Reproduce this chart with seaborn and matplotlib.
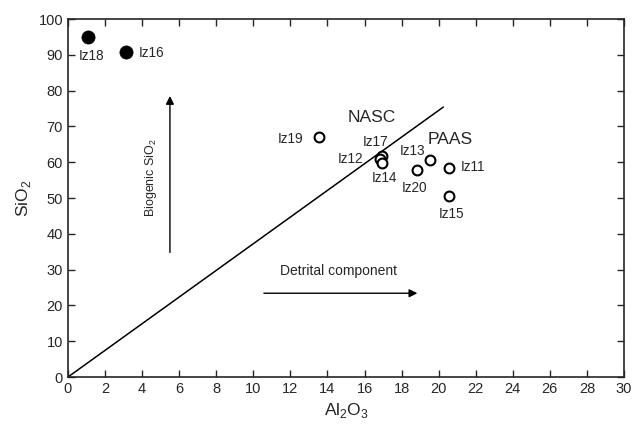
import matplotlib
matplotlib.use("Agg")
import matplotlib.pyplot as plt
import seaborn as sns
import pandas as pd

sns.set_style("ticks")
plt.rcParams['font.family'] = ['Liberation Sans', 'DejaVu Sans']
plt.rcParams['mathtext.fontset'] = 'custom'
plt.rcParams['mathtext.rm'] = 'Liberation Sans'

# Data
filled_names = ["Iz18", "Iz16"]
filled_al = [1.08, 3.13]
filled_si = [95.0, 90.8]

open_names = ["Iz19", "Iz17", "Iz12", "Iz14", "Iz13", "Iz20", "Iz11", "Iz15"]
open_al = [13.55, 16.95, 16.85, 16.95, 19.55, 18.85, 20.55, 20.55]
open_si = [67.0, 61.8, 61.0, 59.9, 60.5, 57.8, 58.4, 50.6]

line_al = [0.0, 20.25]
line_si = [0.0, 75.4]

x_ticks = list(range(0, 31, 2))
y_ticks = list(range(0, 101, 10))

# label positions
label_pos = {
    "Iz18": (1.28, 89.6), "Iz16": (4.5, 90.6), "Iz19": (12.0, 66.4),
    "Iz17": (16.6, 65.6), "Iz12": (15.25, 60.8), "Iz14": (17.1, 55.6),
    "Iz13": (18.6, 63.2), "Iz20": (18.7, 52.8), "Iz11": (21.85, 58.6),
    "Iz15": (20.7, 45.4),
}

fig = plt.figure(figsize=(6.33, 4.32), dpi=100)
ax = fig.add_axes([0.1074, 0.1273, 0.8784, 0.8287])

sns.lineplot(x=line_al, y=line_si, ax=ax, color="black", linewidth=1.1)
sns.scatterplot(x=filled_al, y=filled_si, ax=ax, s=90, color="black",
                edgecolor="black", linewidth=0.5, zorder=3)
sns.scatterplot(x=open_al, y=open_si, ax=ax, s=50, facecolor="white",
                edgecolor="black", linewidth=1.5, zorder=3)

for name, (lx, ly) in label_pos.items():
    ax.text(lx, ly, name, ha="center", va="center", fontsize=9.8)

ax.text(16.4, 72.6, "NASC", ha="center", va="center", fontsize=12.5)
ax.text(20.6, 66.3, "PAAS", ha="center", va="center", fontsize=12.5)

ax.annotate("", xy=(5.5, 78.5), xytext=(5.5, 34.8),
            arrowprops=dict(arrowstyle="-|>", color="black", lw=1.0,
                            mutation_scale=12, shrinkA=0, shrinkB=0))
ax.annotate("", xy=(18.85, 23.4), xytext=(10.57, 23.4),
            arrowprops=dict(arrowstyle="-|>", color="black", lw=1.0,
                            mutation_scale=12, shrinkA=0, shrinkB=0))
ax.text(4.5, 55.7, "Biogenic SiO$_2$", rotation=90, ha="center",
        va="center", fontsize=9)
ax.text(14.6, 29.6, "Detrital component", ha="center", va="center",
        fontsize=10)

ax.set_xlim(0, 30)
ax.set_ylim(0, 100)
ax.set_xticks(x_ticks)
ax.set_yticks(y_ticks)
ax.tick_params(direction="in", top=True, right=True, labelsize=10.5,
               length=5, width=1)
for s in ax.spines.values():
    s.set_linewidth(1.2)
ax.set_xlabel("Al$_2$O$_3$", fontsize=12.5)
ax.set_ylabel("SiO$_2$", fontsize=12.5)

fig.savefig("out.png", dpi=100)
